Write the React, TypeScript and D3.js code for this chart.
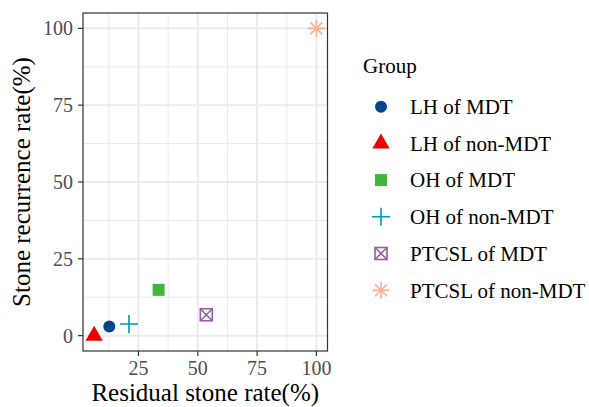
import React from 'react';
import * as d3 from 'd3';

const groups = ['LH of MDT', 'LH of non-MDT', 'OH of MDT', 'OH of non-MDT', 'PTCSL of MDT', 'PTCSL of non-MDT'];
const residualRate = [12.7, 6.3, 33.5, 21.0, 53.6, 100];
const recurrenceRate = [3.0, 0, 14.9, 3.8, 6.8, 100];
const colors = ['#00468B', '#ED0000', '#42B540', '#0099B4', '#925E9F', '#FDAF91'];
const shapes = ['circle', 'triangle', 'square', 'plus', 'boxcross', 'asterisk'];
const xTicks = [25, 50, 75, 100];
const yTicks = [0, 25, 50, 75, 100];

const FONT = '"Liberation Serif", "Times New Roman", serif';
const W = 589;
const H = 407;
const panel = { left: 83, right: 327.5, top: 13, bottom: 351 };

function expand(vals: number[]): [number, number] {
  const lo = d3.min(vals)!;
  const hi = d3.max(vals)!;
  const pad = (hi - lo) * 0.05;
  return [lo - pad, hi + pad];
}

// ggplot shape 16,17,15,3,7,8
function Marker({ shape, color, x, y }: { shape: string; color: string; x: number; y: number }) {
  const t = `translate(${x},${y})`;
  if (shape === 'circle') return <circle cx={x} cy={y} r={6} fill={color} />;
  if (shape === 'triangle')
    return <path transform={t} d={d3.symbol(d3.symbolTriangle, 130)()!} fill={color} />;
  if (shape === 'square') return <rect x={x - 6} y={y - 6} width={12} height={12} fill={color} />;
  if (shape === 'plus')
    return <path transform={t} d="M-9,0H9M0,-9V9" stroke={color} strokeWidth={1.6} fill="none" />;
  if (shape === 'boxcross')
    return (
      <g transform={t} stroke={color} strokeWidth={1.6} fill="none">
        <rect x={-6} y={-6} width={12} height={12} />
        <path d="M-6,-6L6,6M-6,6L6,-6" />
      </g>
    );
  // asterisk
  return (
    <path
      transform={t}
      d="M-8.5,0H8.5M0,-8.5V8.5M-6,-6L6,6M-6,6L6,-6"
      stroke={color}
      strokeWidth={1.6}
      fill="none"
    />
  );
}

export default function App() {
  const x = d3.scaleLinear().domain(expand(residualRate)).range([panel.left, panel.right]);
  const y = d3.scaleLinear().domain(expand(recurrenceRate)).range([panel.bottom, panel.top]);
  const xMinor = [12.5, 37.5, 62.5, 87.5];
  const yMinor = [12.5, 37.5, 62.5, 87.5];
  const legendY = (i: number) => 106.7 + i * 36.7;

  return (
    <svg width={W} height={H} style={{ position: 'absolute', left: 0, top: 0, background: '#fff' }} fontFamily={FONT}>
      {/* grid */}
      <g stroke="#EBEBEB" fill="none">
        {xMinor.map(v => (
          <line key={'xm' + v} x1={x(v)} x2={x(v)} y1={panel.top} y2={panel.bottom} strokeWidth={1} />
        ))}
        {yMinor.map(v => (
          <line key={'ym' + v} y1={y(v)} y2={y(v)} x1={panel.left} x2={panel.right} strokeWidth={1} />
        ))}
        {xTicks.map(v => (
          <line key={'xg' + v} x1={x(v)} x2={x(v)} y1={panel.top} y2={panel.bottom} strokeWidth={2} />
        ))}
        {yTicks.map(v => (
          <line key={'yg' + v} y1={y(v)} y2={y(v)} x1={panel.left} x2={panel.right} strokeWidth={2} />
        ))}
      </g>

      {/* points */}
      {groups.map((g, i) => (
        <Marker key={g} shape={shapes[i]} color={colors[i]} x={x(residualRate[i])} y={y(recurrenceRate[i])} />
      ))}

      {/* panel border */}
      <rect
        x={panel.left}
        y={panel.top}
        width={panel.right - panel.left}
        height={panel.bottom - panel.top}
        fill="none"
        stroke="#333333"
        strokeWidth={1.2}
      />

      {/* x axis */}
      {xTicks.map(v => (
        <g key={'xt' + v}>
          <line x1={x(v)} x2={x(v)} y1={panel.bottom} y2={panel.bottom + 5} stroke="#333333" strokeWidth={1.2} />
          <text x={x(v)} y={375} textAnchor="middle" fontSize={20} fill="#4D4D4D">
            {v}
          </text>
        </g>
      ))}
      <text x={(panel.left + panel.right) / 2} y={401} textAnchor="middle" fontSize={25} fill="#000">
        Residual stone rate(%)
      </text>

      {/* y axis */}
      {yTicks.map(v => (
        <g key={'yt' + v}>
          <line x1={panel.left - 5} x2={panel.left} y1={y(v)} y2={y(v)} stroke="#333333" strokeWidth={1.2} />
          <text x={73} y={y(v)} dy="0.35em" textAnchor="end" fontSize={20} fill="#4D4D4D">
            {v}
          </text>
        </g>
      ))}
      <text
        transform={`translate(30,${(panel.top + panel.bottom) / 2}) rotate(-90)`}
        textAnchor="middle"
        fontSize={25}
        fill="#000"
      >
        Stone recurrence rate(%)
      </text>

      {/* legend */}
      <text x={363} y={73} fontSize={21} fill="#000">
        Group
      </text>
      {groups.map((g, i) => (
        <g key={'lg' + g}>
          <Marker shape={shapes[i]} color={colors[i]} x={381} y={legendY(i)} />
          <text x={410} y={legendY(i)} dy="0.35em" fontSize={21} fill="#000">
            {g}
          </text>
        </g>
      ))}
    </svg>
  );
}
